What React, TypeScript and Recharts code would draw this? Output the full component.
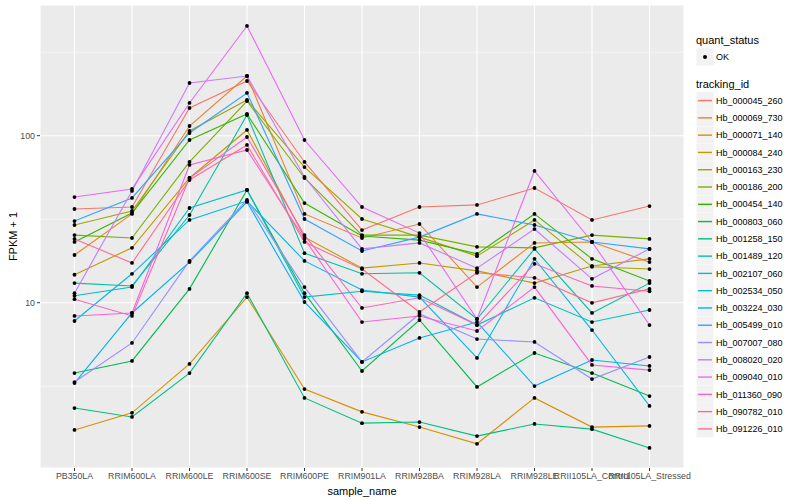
import React from "react";
import { LineChart, Line, XAxis, YAxis, CartesianGrid, ReferenceLine } from "recharts";

// sample names on the x axis
const SAMPLES = [
    "PB350LA", "RRIM600LA", "RRIM600LE", "RRIM600SE", "RRIM600PE", "RRIM901LA",
    "RRIM928BA", "RRIM928LA", "RRIM928LE", "RRII105LA_Control", "RRII105LA_Stressed",
];

// FPKM + 1 per gene, one value per sample
const HB_000045_260 = [36.4, 37.4, 146.5, 212.6, 69.6, 27.2, 37.4, 38.5, 48.6, 31.3, 37.9];
const HB_000069_730 = [19.3, 34.0, 114.3, 227.7, 34.0, 24.4, 29.6, 12.4, 22.8, 23.1, 17.5];
const HB_000071_140 = [1.73, 2.19, 4.30, 10.8, 3.04, 2.22, 1.80, 1.43, 2.69, 1.80, 1.83];
const HB_000084_240 = [14.7, 21.3, 55.8, 108.2, 24.7, 16.1, 17.3, 15.5, 13.1, 16.6, 18.3];
const HB_000163_230 = [29.2, 35.4, 106.7, 163.6, 64.9, 31.7, 24.7, 19.0, 31.3, 16.4, 15.9];
const HB_000186_200 = [25.4, 24.4, 69.6, 161.3, 55.8, 25.4, 25.4, 21.6, 21.3, 25.4, 24.1];
const HB_000454_140 = [23.1, 34.4, 94.2, 134.9, 39.5, 25.1, 23.7, 19.6, 34.0, 18.3, 13.5];
const HB_000803_060 = [3.79, 4.48, 12.1, 47.3, 11.4, 3.90, 7.88, 3.13, 5.00, 3.79, 2.76];
const HB_001258_150 = [2.34, 2.07, 3.79, 11.4, 2.69, 1.90, 1.93, 1.59, 1.88, 1.75, 1.35];
const HB_001489_120 = [13.1, 12.6, 33.5, 133.0, 19.8, 14.9, 15.1, 7.99, 21.0, 8.68, 13.1];
const HB_002107_060 = [11.0, 12.4, 36.9, 47.3, 10.8, 11.7, 11.1, 7.35, 10.7, 7.66, 9.04];
const HB_002534_050 = [7.77, 14.9, 31.3, 40.6, 17.8, 11.9, 10.8, 4.67, 18.3, 6.86, 2.41];
const HB_003224_030 = [3.30, 8.68, 17.5, 40.1, 10.1, 4.42, 6.15, 7.66, 3.17, 4.54, 4.18];
const HB_005499_010 = [30.8, 42.4, 103.8, 180.2, 31.7, 20.4, 24.7, 34.0, 29.2, 23.1, 21.0];
const HB_007007_080 = [3.35, 5.74, 17.8, 41.2, 12.4, 4.42, 8.56, 6.06, 5.82, 3.49, 4.73];
const HB_008020_020 = [11.4, 46.7, 206.8, 227.7, 56.6, 21.0, 22.8, 16.1, 27.6, 13.9, 21.0];
const HB_009040_010 = [42.9, 48.0, 157.0, 454.0, 94.2, 37.4, 26.1, 7.99, 61.5, 23.1, 7.35];
const HB_011360_090 = [8.33, 8.68, 66.8, 82.1, 24.1, 7.66, 8.33, 6.77, 12.4, 4.24, 3.95];
const HB_090782_010 = [10.5, 8.33, 55.8, 98.2, 25.4, 9.30, 10.7, 7.35, 17.1, 12.6, 11.7];
const HB_091226_010 = [24.1, 17.3, 54.3, 88.0, 23.1, 15.9, 8.80, 15.1, 14.1, 9.98, 12.1];

const Y_TICKS = [10, 100];
const Y_MINOR = [3.162, 31.62, 316.2];

const SERIES = [
    { id: "Hb_000045_260", color: "#F8766D", values: HB_000045_260 },
    { id: "Hb_000069_730", color: "#EA8331", values: HB_000069_730 },
    { id: "Hb_000071_140", color: "#D89000", values: HB_000071_140 },
    { id: "Hb_000084_240", color: "#C09B00", values: HB_000084_240 },
    { id: "Hb_000163_230", color: "#A3A500", values: HB_000163_230 },
    { id: "Hb_000186_200", color: "#7CAE00", values: HB_000186_200 },
    { id: "Hb_000454_140", color: "#39B600", values: HB_000454_140 },
    { id: "Hb_000803_060", color: "#00BB4E", values: HB_000803_060 },
    { id: "Hb_001258_150", color: "#00BF7D", values: HB_001258_150 },
    { id: "Hb_001489_120", color: "#00C1A3", values: HB_001489_120 },
    { id: "Hb_002107_060", color: "#00BFC4", values: HB_002107_060 },
    { id: "Hb_002534_050", color: "#00BAE0", values: HB_002534_050 },
    { id: "Hb_003224_030", color: "#00B0F6", values: HB_003224_030 },
    { id: "Hb_005499_010", color: "#35A2FF", values: HB_005499_010 },
    { id: "Hb_007007_080", color: "#9590FF", values: HB_007007_080 },
    { id: "Hb_008020_020", color: "#C77CFF", values: HB_008020_020 },
    { id: "Hb_009040_010", color: "#E76BF3", values: HB_009040_010 },
    { id: "Hb_011360_090", color: "#FA62DB", values: HB_011360_090 },
    { id: "Hb_090782_010", color: "#FF62BC", values: HB_090782_010 },
    { id: "Hb_091226_010", color: "#FF6C91", values: HB_091226_010 },
];

const FONT = "'Liberation Sans', Arial, Helvetica, sans-serif";

// ggplot-ish legend on the right
const GgLegend = () => {
    const keyX = 696.5;
    const step = 17.28;
    const firstY = 92;
    return (
        <svg width={104} height={500} style={{ position: "absolute", left: 696, top: 0 }} viewBox="696 0 104 500">
            <text x={696} y={44} fontSize={11} fontFamily={FONT} fill="#000">quant_status</text>
            <rect x={keyX} y={48.5} width={17} height={17} fill="#F2F2F2" />
            <circle cx={keyX + 8.5} cy={57} r={2} fill="#000" />
            <text x={716} y={60} fontSize={9} fontFamily={FONT} fill="#000">OK</text>
            <text x={696} y={88} fontSize={11} fontFamily={FONT} fill="#000">tracking_id</text>
            {SERIES.map((s, i) => {
                const y = firstY + i * step;
                return (
                    <g key={s.id}>
                        <rect x={keyX} y={y} width={17} height={17} fill="#F2F2F2" />
                        <line x1={keyX + 1.5} x2={keyX + 15.5} y1={y + 8.6} y2={y + 8.6} stroke={s.color} strokeWidth={1.4} />
                        <text x={716} y={y + 11.8} fontSize={9} fontFamily={FONT} fill="#000">{s.id}</text>
                    </g>
                );
            })}
        </svg>
    );
};

const App = () => {
    // one row per sample, one column per gene
    const data = SAMPLES.map((name, i) => {
        const row: Record<string, string | number> = { sample_name: name };
        SERIES.forEach(s => { row[s.id] = s.values[i]; });
        return row;
    });

    return (
        <div style={{ position: "absolute", left: 0, top: 0, width: 800, height: 500, background: "#fff", fontFamily: FONT }}>
            <LineChart width={800} height={500} data={data} margin={{ top: 5, right: 116, left: 0, bottom: 0 }}>
                <CartesianGrid fill="#EBEBEB" stroke="#FFFFFF" strokeWidth={1.1} />
                {Y_MINOR.map(v => (
                    <ReferenceLine key={v} y={v} stroke="#FFFFFF" strokeWidth={0.55} ifOverflow="hidden" />
                ))}
                <XAxis
                    dataKey="sample_name"
                    interval={0}
                    padding={{ left: 34.5, right: 34.5 }}
                    height={32}
                    axisLine={false}
                    tickSize={3}
                    tickMargin={2}
                    tickLine={{ stroke: "#333333" }}
                    tick={{ fontSize: 8.8, fill: "#4D4D4D", fontFamily: FONT }}
                    label={{ value: "sample_name", position: "insideBottom", offset: 5, fontSize: 11, fill: "#000", fontFamily: FONT }}
                />
                <YAxis
                    scale="log"
                    domain={[1.024, 606]}
                    ticks={Y_TICKS}
                    allowDataOverflow
                    width={40}
                    axisLine={false}
                    tickSize={3}
                    tickMargin={2}
                    tickLine={{ stroke: "#333333" }}
                    tick={{ fontSize: 8.8, fill: "#4D4D4D", fontFamily: FONT }}
                    label={{
                        content: () => (
                            <text x={13} y={236.5} transform="rotate(-90 13 236.5)" textAnchor="middle" dominantBaseline="central" fontSize={11} fill="#000" fontFamily={FONT}>
                                FPKM + 1
                            </text>
                        ),
                    }}
                />
                {SERIES.map(s => (
                    <Line key={s.id} dataKey={s.id} stroke={s.color} strokeWidth={1.1} dot={false} activeDot={false} isAnimationActive={false} />
                ))}
                {/* points drawn on top of every line, like the geom_point layer */}
                {SERIES.map(s => (
                    <Line key={s.id + "_pt"} dataKey={s.id} stroke="none" dot={{ r: 1.9, fill: "#000", stroke: "none" }} activeDot={false} legendType="none" isAnimationActive={false} />
                ))}
            </LineChart>
            <GgLegend />
        </div>
    );
};

export default App;
